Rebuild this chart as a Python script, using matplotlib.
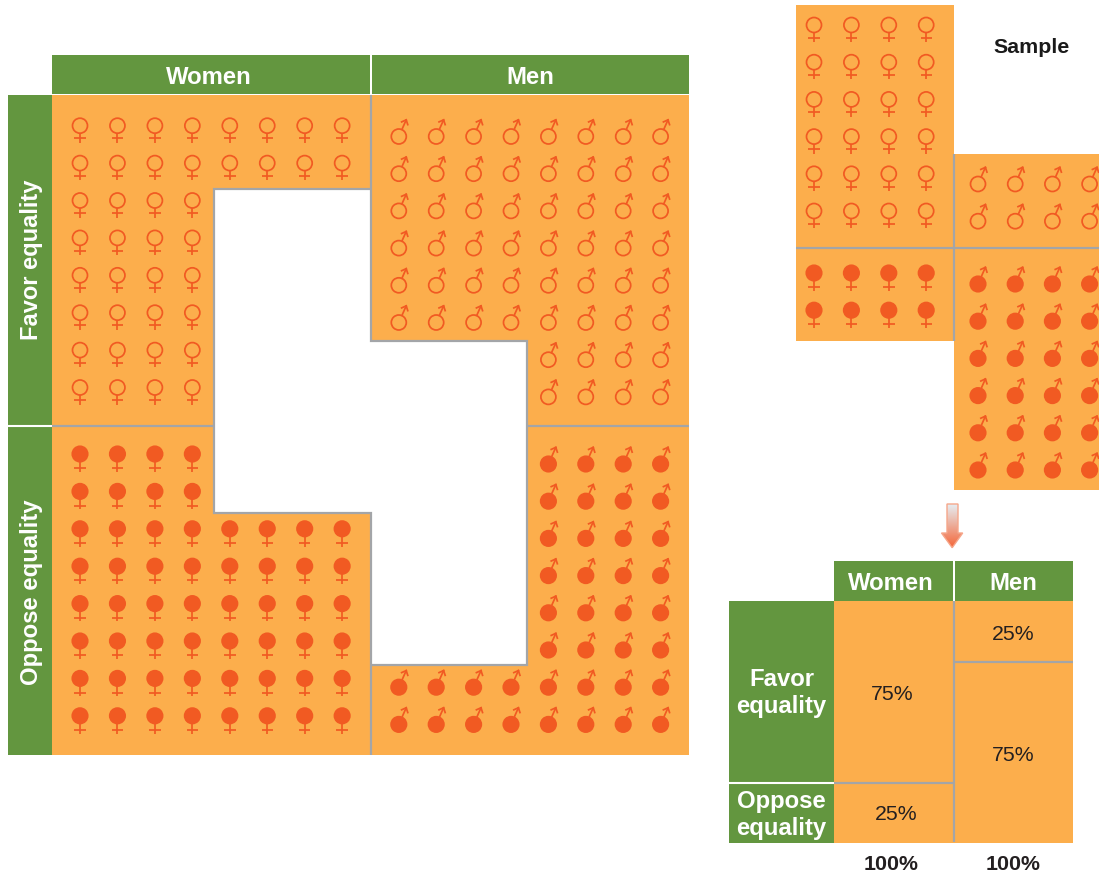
import numpy as np
import matplotlib
matplotlib.use("Agg")
import matplotlib.pyplot as plt
from matplotlib.patches import Polygon, Rectangle, Circle

plt.rcParams['font.family'] = ['Liberation Sans', 'DejaVu Sans']

# ---- data ----
genders = ["Women", "Men"]
opinions = ["Favor equality", "Oppose equality"]
# symbols per row in the population panel
women_favor_rows = [8, 8, 4, 4, 4, 4, 4, 4]
women_oppose_rows = [4, 4, 8, 8, 8, 8, 8, 8]
men_favor_rows = [8, 8, 8, 8, 8, 8, 4, 4]
men_oppose_rows = [4, 4, 4, 4, 4, 4, 8, 8]
# symbols per row in the sample panel
sample_women_favor_rows = [4, 4, 4, 4, 4, 4]
sample_women_oppose_rows = [4, 4]
sample_men_favor_rows = [4, 4]
sample_men_oppose_rows = [4, 4, 4, 4, 4, 4]
# conditional distribution
women_pct = [75, 25]
men_pct = [25, 75]
col_totals = ["100%", "100%"]
sample_title = "Sample"

GREEN = "#63963F"
ORANGE = "#FCAE4C"
MARK = "#F15A22"
GRAY = "#A3A5A8"
LW = 1.25

fig = plt.figure(figsize=(10.99, 8.74), dpi=100)
ax = fig.add_axes([0, 0, 1, 1])
ax.set_xlim(0, 1099)
ax.set_ylim(874, 0)
ax.axis("off")


def female(x, y, filled):
    r = 7.5 if not filled else 7.7
    bar = 12.7 if not filled else 14.2
    end = 17.2 if not filled else 17.8
    ax.add_patch(Circle((x, y), r, fc=MARK if filled else "none", ec=MARK, lw=LW, zorder=5))
    ax.plot([x, x], [y + r, y + end], color=MARK, lw=LW, zorder=5, solid_capstyle="butt")
    ax.plot([x - 5.7, x + 5.7], [y + bar, y + bar], color=MARK, lw=LW, zorder=5, solid_capstyle="butt")


def male(x, y, filled):
    r = 7.5 if not filled else 7.7
    ang = np.deg2rad(66)
    d = np.array([np.cos(ang), -np.sin(ang)])
    c = np.array([x, y], dtype=float)
    s, t = c + r * d, c + 18.2 * d
    ax.add_patch(Circle((x, y), r, fc=MARK if filled else "none", ec=MARK, lw=LW, zorder=5))
    ax.plot([s[0], t[0]], [s[1], t[1]], color=MARK, lw=LW, zorder=5, solid_capstyle="butt")
    for off in (np.deg2rad(42), -np.deg2rad(42)):
        b = t - 5.0 * np.array([np.cos(ang + off), -np.sin(ang + off)])
        ax.plot([b[0], t[0]], [b[1], t[1]], color=MARK, lw=LW, zorder=5, solid_capstyle="projecting")


def draw_rows(rows, xs, ys, fn, filled, align_left=True):
    for y, n in zip(ys, rows):
        use = xs[:n] if align_left else xs[-n:]
        for x in use:
            fn(x, y, filled)


def poly(pts):
    ax.add_patch(Polygon(pts, closed=True, fc=ORANGE, ec="none", zorder=1))


def gray(*pts):
    p = np.array(pts)
    ax.plot(p[:, 0], p[:, 1], color=GRAY, lw=1.6, zorder=3, solid_joinstyle="miter", solid_capstyle="butt")


def rect(x0, y0, x1, y1, c, z=2):
    ax.add_patch(Rectangle((x0, y0), x1 - x0, y1 - y0, fc=c, ec="none", zorder=z))


def label(x, y, s, size=16, color="white", weight="bold", rot=0, ls=1.26):
    ax.text(x, y, s, fontsize=size, color=color, fontweight=weight, rotation=rot,
            ha="center", va="center", zorder=6, linespacing=ls)


# ---- population panel ----
poly([(52, 95), (371, 95), (371, 188), (214, 188), (214, 426), (52, 426)])
poly([(52, 426), (214, 426), (214, 513), (371, 513), (371, 755), (52, 755)])
poly([(371, 95), (689, 95), (689, 426), (527, 426), (527, 341), (371, 341)])
poly([(527, 426), (689, 426), (689, 755), (371, 755), (371, 665), (527, 665)])
gray((371.3, 95), (371.3, 341), (527, 341), (527, 665), (371.3, 665))
gray((371.3, 188.5), (214, 188.5), (214, 513), (371.3, 513), (371.3, 755))
gray((52, 426), (214, 426))
gray((527, 426), (689, 426))

rect(52, 55, 370, 94, GREEN)
rect(372, 55, 689, 94, GREEN)
rect(8, 95, 52, 755, GREEN)
ax.plot([8, 52], [426, 426], color="white", lw=1.5, zorder=3, solid_capstyle="butt")
label(209, 77, genders[0], 17.2)
label(530, 77, genders[1], 17.2)
label(31.5, 260, opinions[0], 17.0, rot=90)
label(31.5, 592, opinions[1], 17.2, rot=90)

wx = 80 + 37.45 * np.arange(8)
mx = 398.8 + 37.4 * np.arange(8)
draw_rows(women_favor_rows, wx, 125.7 + 37.4 * np.arange(8), female, False)
draw_rows(women_oppose_rows, wx, 454 + 37.4 * np.arange(8), female, True)
draw_rows(men_favor_rows, mx, 136.5 + 37.2 * np.arange(8), male, False, align_left=False)
draw_rows(men_oppose_rows, mx, 464 + 37.2 * np.arange(8), male, True, align_left=False)

# ---- sample panel ----
rect(796, 5, 954, 248, ORANGE, 1)
rect(796, 248, 954, 341, ORANGE, 1)
rect(954, 154, 1099, 248, ORANGE, 1)
rect(954, 248, 1099, 490, ORANGE, 1)
gray((796, 248), (1099, 248))
gray((953.5, 154), (953.5, 341))
label(1032, 47.5, sample_title, 15.4, color="#1a1a1a")

swx = 814 + 37.4 * np.arange(4)
smx = 978 + 37.2 * np.arange(4)
draw_rows(sample_women_favor_rows, swx, 25 + 37.2 * np.arange(6), female, False)
draw_rows(sample_women_oppose_rows, swx, 273 + 37.2 * np.arange(2), female, True)
draw_rows(sample_men_favor_rows, smx, 184 + 37.2 * np.arange(2), male, False)
draw_rows(sample_men_oppose_rows, smx, 284 + 37.2 * np.arange(6), male, True)

# ---- arrow ----
arrow = Polygon([(947, 504), (958, 504), (958, 533), (962.7, 533), (952.2, 547.7), (941.5, 533), (947, 533)],
                closed=True, fc="none", ec="#F6A68A", lw=1, zorder=4)
ax.add_patch(arrow)
grad = np.linspace(0, 1, 64)[:, None, None]
c0 = np.array([0.90, 0.93, 0.95])
c1 = np.array([0.96, 0.40, 0.22])
im = ax.imshow(c0 + (c1 - c0) * grad, extent=(940, 965, 548, 504), aspect="auto", zorder=3)
im.set_clip_path(arrow)
ax.set_xlim(0, 1099)
ax.set_ylim(874, 0)

# ---- conditional mosaic ----
mt, mb = 601, 843
h = mb - mt
wsplit = mt + h * women_pct[0] / 100
msplit = mt + h * men_pct[0] / 100
rect(834, 601, 953.5, mb, ORANGE, 1)
rect(953.5, 601, 1073, mb, ORANGE, 1)
gray((834, wsplit + 0.2), (953.5, wsplit + 0.2))
gray((953.5, msplit + 0.5), (1073, msplit + 0.5))
gray((953.5, 601), (953.5, 842))
rect(834, 561, 953, 600.5, GREEN)
rect(955, 561, 1073, 600.5, GREEN)
rect(729, 601, 834, mb, GREEN)
ax.plot([729, 834], [wsplit + 0.2, wsplit + 0.2], color="white", lw=1.5, zorder=3, solid_capstyle="butt")
label(890.5, 584, genders[0], 17.2)
label(1013, 584, genders[1], 17.2)
label(781.5, 693, "Favor\nequality", 17.2)
label(781.5, 815, "Oppose\nequality", 17.2)
tc = "#231F20"
label(892, (mt + wsplit) / 2 + 2.5, f"{women_pct[0]}%", 15.3, color=tc, weight="normal")
label(896, (wsplit + mb) / 2 + 2, f"{women_pct[1]}%", 15.3, color=tc, weight="normal")
label(1013, (mt + msplit) / 2 + 3, f"{men_pct[0]}%", 15.3, color=tc, weight="normal")
label(1013, (msplit + mb) / 2 + 3, f"{men_pct[1]}%", 15.3, color=tc, weight="normal")
label(891, 864, col_totals[0], 15.4, color=tc)
label(1013, 864, col_totals[1], 15.4, color=tc)

fig.savefig("out.png", dpi=100)
